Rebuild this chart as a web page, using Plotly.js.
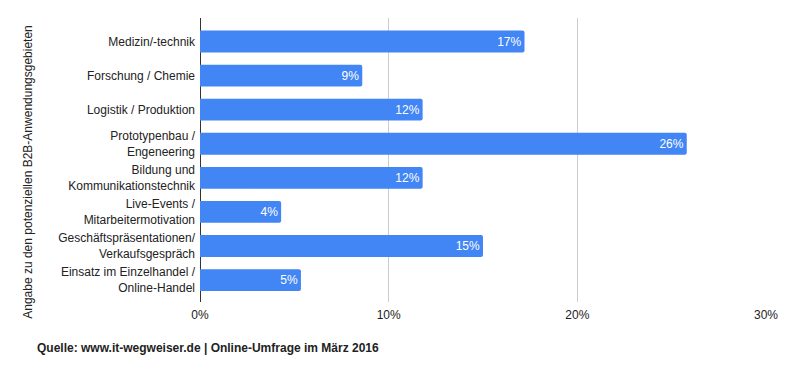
<!DOCTYPE html>
<html>
<head>
<meta charset="utf-8">
<script src="https://cdn.plot.ly/plotly-3.0.1.min.js"></script>
<style>html,body{margin:0;padding:0;background:#fff}#chart{width:785px;height:371px}</style>
</head>
<body>
<div id="chart"></div>
<script>
var categories = [
  "Medizin/-technik",
  "Forschung / Chemie",
  "Logistik / Produktion",
  "Prototypenbau /<br>Engeneering",
  "Bildung und<br>Kommunikationstechnik",
  "Live-Events /<br>Mitarbeitermotivation",
  "Geschäftspräsentationen/<br>Verkaufsgespräch",
  "Einsatz im Einzelhandel /<br>Online-Handel"
];
var values = [17.2, 8.6, 11.8, 25.8, 11.8, 4.3, 15.0, 5.35];
var valueLabels = ["17%", "9%", "12%", "26%", "12%", "4%", "15%", "5%"];
var xTickVals = [0, 10, 20, 30];
var xTickText = ["0%", "10%", "20%", "30%"];

var FONT = "Liberation Sans, Arial, sans-serif";

var trace = {
  type: "bar",
  orientation: "h",
  y: categories,
  x: values,
  text: valueLabels,
  textposition: "inside",
  insidetextanchor: "end",
  textfont: {family: FONT, size: 12, color: "#ffffff"},
  marker: {color: "#4285F4", cornerradius: 2},
  width: 0.64,
  hoverinfo: "none"
};

var layout = {
  width: 785, height: 371,
  margin: {l: 199.5, r: 18.7, t: 18.3, b: 69.3, pad: 0},
  paper_bgcolor: "#fff", plot_bgcolor: "#fff",
  font: {family: FONT, size: 12, color: "#222"},
  showlegend: false,
  xaxis: {
    range: [0, 30],
    tickvals: xTickVals, ticktext: xTickText,
    showgrid: true, gridcolor: "#cccccc", gridwidth: 1,
    zeroline: true, zerolinecolor: "#333333", zerolinewidth: 1,
    showline: false, ticks: "",
    ticklabelstandoff: 4,
    tickfont: {family: FONT, size: 12, color: "#222"},
    fixedrange: true
  },
  yaxis: {
    type: "category",
    range: [7.644, -0.69],
    showgrid: false, zeroline: false, showline: false, ticks: "",
    ticklabelstandoff: 4,
    tickfont: {family: FONT, size: 12, color: "#222"},
    fixedrange: true
  },
  annotations: [
    {
      text: "Angabe zu den potenziellen B2B-Anwendungsgebieten",
      textangle: -90, xref: "paper", yref: "paper",
      x: (27 - 199.5) / (785 - 199.5 - 18.7), xanchor: "center",
      y: (371 - 69.3 - 172) / (371 - 18.3 - 69.3), yanchor: "middle",
      showarrow: false, font: {family: FONT, size: 12, color: "#222"}
    },
    {
      text: "<b>Quelle: www.it-wegweiser.de | Online-Umfrage im März 2016</b>",
      xref: "paper", yref: "paper",
      x: (34 - 199.5) / (785 - 199.5 - 18.7), xanchor: "left",
      y: (371 - 69.3 - 348) / (371 - 18.3 - 69.3), yanchor: "middle",
      showarrow: false, font: {family: FONT, size: 12, color: "#222"}
    }
  ]
};

Plotly.newPlot("chart", [trace], layout, {displayModeBar: false, staticPlot: true});
</script>
</body>
</html>
